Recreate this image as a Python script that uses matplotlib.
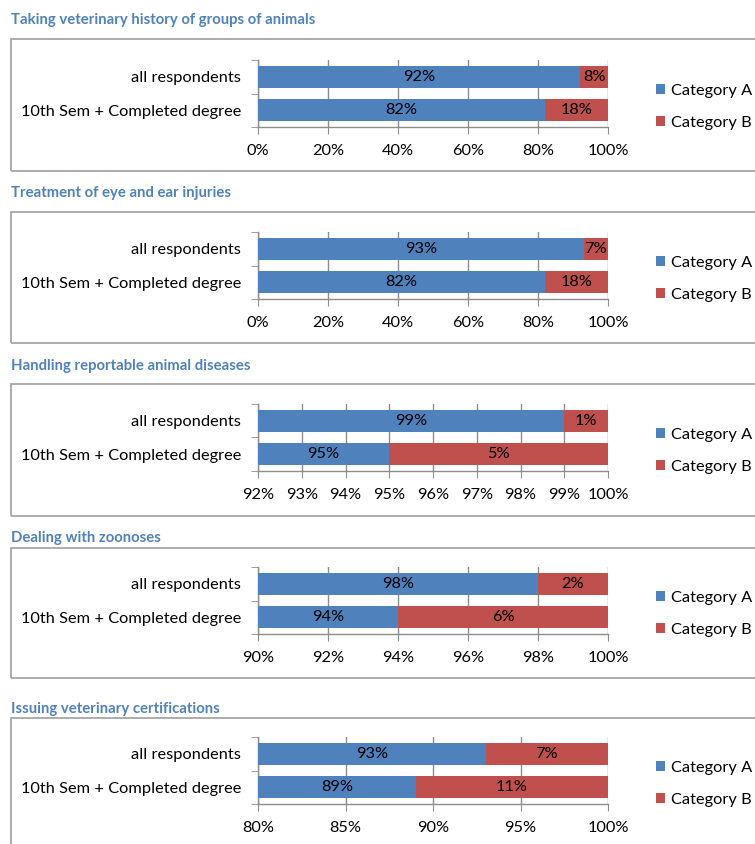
import matplotlib
matplotlib.use('Agg')
import matplotlib.pyplot as plt
from matplotlib.patches import Rectangle
from matplotlib.ticker import FixedLocator

plt.rcParams['font.family'] = ['Lato', 'DejaVu Sans']

# chart data
titles = [
    "Taking veterinary history of groups of animals",
    "Treatment of eye and ear injuries",
    "Handling reportable animal diseases",
    "Dealing with zoonoses",
    "Issuing veterinary certifications",
]
groups = ["all respondents", "10th Sem + Completed degree"]
cat_a = [[92, 82], [93, 82], [99, 95], [98, 94], [93, 89]]
cat_b = [[8, 18], [7, 18], [1, 5], [2, 6], [7, 11]]
x_ticks = [
    [0, 20, 40, 60, 80, 100],
    [0, 20, 40, 60, 80, 100],
    [92, 93, 94, 95, 96, 97, 98, 99, 100],
    [90, 92, 94, 96, 98, 100],
    [80, 85, 90, 95, 100],
]
legend_labels = ["Category A", "Category B"]

blue = '#4F81BD'
red = '#C0504D'
grid_col = '#8C8C8C'

W, H = 755, 844
fig = plt.figure(figsize=(W / 100, H / 100), dpi=100)

# pixel layout (top edges)
title_y = [20, 193, 366, 538, 709]
box_top = [39, 212, 384, 548, 718]
box_bot = [171, 343, 516, 678, 860]
ax_top = [60, 232, 404, 567, 737]
ax_h = 67
ax_left, ax_w = 258, 350
fs = 11.8


def fx(px):
    return px / W


def fy(py):
    return 1 - py / H


for i in range(len(titles)):
    fig.text(fx(11), fy(title_y[i]), titles[i], color=blue, fontsize=10.7,
             fontweight='bold', va='center', ha='left')
    fig.patches.append(Rectangle((fx(11), fy(box_bot[i])), fx(760),
                                 (box_bot[i] - box_top[i]) / H,
                                 transform=fig.transFigure, fill=False,
                                 edgecolor='#A6A6A6', linewidth=1.3))

    ax = fig.add_axes([fx(ax_left), fy(ax_top[i] + ax_h), ax_w / W, ax_h / H])
    xmin = x_ticks[i][0]
    xmax = x_ticks[i][-1]
    y = [0, 1]
    ba = ax.barh(y, cat_a[i], height=0.66, color=blue, label=legend_labels[0], zorder=3)
    bb = ax.barh(y, cat_b[i], left=cat_a[i], height=0.66, color=red, label=legend_labels[1], zorder=3)
    ax.set_xlim(xmin, xmax)
    ax.set_ylim(1.5, -0.5)

    # data labels centred on the visible part of each segment
    for j in range(2):
        a0 = max(0, xmin)
        ax.text((a0 + cat_a[i][j]) / 2, y[j], f"{cat_a[i][j]}%", ha='center',
                va='center', fontsize=fs, zorder=4)
        b0 = max(cat_a[i][j], xmin)
        b1 = min(cat_a[i][j] + cat_b[i][j], xmax)
        ax.text((b0 + b1) / 2, y[j], f"{cat_b[i][j]}%", ha='center',
                va='center', fontsize=fs, zorder=4)

    ax.set_xticks(x_ticks[i])
    ax.set_xticklabels([f"{t}%" for t in x_ticks[i]], fontsize=fs)
    ax.set_yticks(y)
    ax.set_yticklabels(groups, fontsize=fs)
    ax.yaxis.set_minor_locator(FixedLocator([-0.5, 0.5, 1.5]))
    ax.tick_params(axis='y', which='major', length=0, pad=12)
    ax.tick_params(axis='y', which='minor', length=5, color=grid_col)
    ax.tick_params(axis='x', length=5, color=grid_col, pad=7)
    ax.grid(axis='x', color=grid_col, linewidth=1, zorder=0)
    for s in ['top', 'right']:
        ax.spines[s].set_visible(False)
    for s in ['left', 'bottom']:
        ax.spines[s].set_color(grid_col)
        ax.spines[s].set_linewidth(1)

    ax.legend(handles=[ba, bb], loc='center left', frameon=False, fontsize=fs,
              handlelength=0.55, handleheight=0.55, handletextpad=0.35,
              labelspacing=1.1, borderaxespad=0, borderpad=0,
              bbox_to_anchor=(fx(656), fy(ax_top[i] + ax_h / 2 + 13.5)),
              bbox_transform=fig.transFigure)

fig.savefig('out.png', dpi=100)
